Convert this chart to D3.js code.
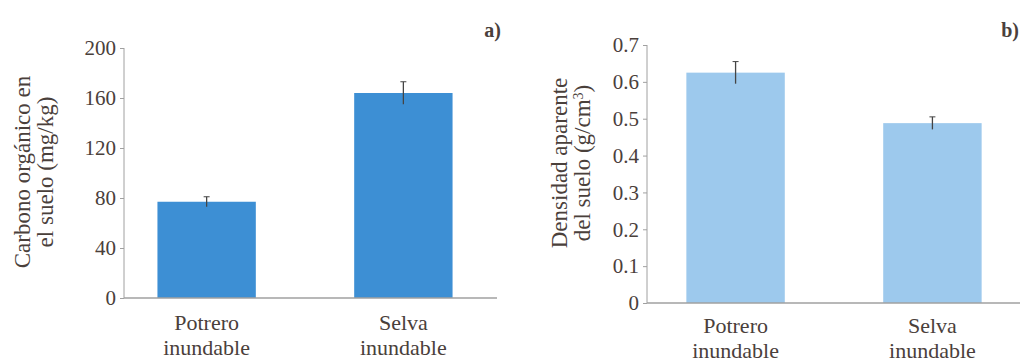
<!DOCTYPE html>
<html lang="es">
<head>
<meta charset="UTF-8">
<title>Carbono y densidad</title>
<script src="https://d3js.org/d3.v7.min.js"></script>
<style>
  body { margin: 0; background: #fff; }
  svg text { font-family: "Liberation Serif", "Times New Roman", Times, "DejaVu Serif", serif; fill: #4a403b; }
</style>
</head>
<body>
<div id="chart"></div>
<script>
// datos
var categorias = [["Potrero", "inundable"], ["Selva", "inundable"]];
var carbono = [77, 164];
var carbonoErr = [4, 9];
var carbonoTicks = [0, 40, 80, 120, 160, 200];
var densidad = [0.625, 0.488];
var densidadErr = [0.03, 0.017];
var densidadTicks = [0, 0.1, 0.2, 0.3, 0.4, 0.5, 0.6, 0.7];

var serif = '"Liberation Serif", "Times New Roman", Times, "DejaVu Serif", serif';

var svg = d3.select('#chart').append('svg')
  .attr('width', 1020).attr('height', 364)
  .attr('font-family', serif);

function panel(opt) {
  var g = svg.append('g');
  var x = d3.scaleBand().domain([0, 1]).range([opt.x0, opt.x1])
    .paddingInner(0.5).paddingOuter(opt.padOut);
  var y = d3.scaleLinear().domain(opt.domain).range([opt.yb, opt.yt]);
  var cx = function(i) { return x(i) + x.bandwidth() / 2; };

  // barras
  g.selectAll('rect.bar').data(opt.values).enter().append('rect')
    .attr('x', function(d, i) { return x(i); })
    .attr('width', x.bandwidth())
    .attr('y', function(d) { return y(d); })
    .attr('height', function(d) { return opt.yb - y(d); })
    .attr('fill', opt.color);

  // barras de error
  var eg = g.selectAll('g.err').data(opt.values).enter().append('g');
  eg.append('line')
    .attr('x1', function(d, i) { return cx(i); })
    .attr('x2', function(d, i) { return cx(i); })
    .attr('y1', function(d, i) { return y(d + opt.err[i]); })
    .attr('y2', function(d, i) { return y(d - opt.err[i]); })
    .attr('stroke', '#444').attr('stroke-width', 1.3);
  eg.append('line')
    .attr('x1', function(d, i) { return cx(i) - 3; })
    .attr('x2', function(d, i) { return cx(i) + 3; })
    .attr('y1', function(d, i) { return y(d + opt.err[i]); })
    .attr('y2', function(d, i) { return y(d + opt.err[i]); })
    .attr('stroke', '#444').attr('stroke-width', 1);

  // eje y
  var ya = g.append('g').attr('transform', 'translate(' + opt.x0 + ',0)')
    .call(d3.axisLeft(y).tickValues(opt.ticks).tickSize(4).tickPadding(4)
      .tickFormat(opt.fmt));
  ya.attr('font-family', serif).attr('font-size', 21);
  ya.select('.domain').attr('stroke', '#a0a0a0').attr('d', 'M0,' + opt.yt + 'V' + opt.yb);
  ya.selectAll('.tick line').attr('stroke', '#a0a0a0');
  ya.selectAll('.tick text').attr('fill', '#4a403b');

  // eje x
  g.append('line').attr('x1', opt.x0).attr('x2', opt.xend)
    .attr('y1', opt.yb).attr('y2', opt.yb)
    .attr('stroke', '#a0a0a0').attr('stroke-width', 1.3);

  // etiquetas de categoría
  categorias.forEach(function(c, i) {
    var t = g.append('text').attr('text-anchor', 'middle').attr('font-size', 22)
      .attr('y', opt.labY);
    t.append('tspan').attr('x', cx(i)).text(c[0]);
    t.append('tspan').attr('x', cx(i)).attr('dy', 25).text(c[1]);
  });

  // título eje y
  var tt = g.append('text').attr('text-anchor', 'middle').attr('font-size', 23)
    .attr('transform', 'translate(' + opt.titleX + ',' + opt.titleY + ') rotate(-90)');
  tt.append('tspan').attr('x', 0).attr('y', 0).text(opt.title[0]);
  var t2 = tt.append('tspan').attr('x', 0).attr('y', 23);
  opt.title2(t2);

  // letra del panel
  g.append('text').attr('x', opt.letterX).attr('y', 37).attr('font-size', 20)
    .attr('font-weight', 'bold').attr('text-anchor', 'end').text(opt.letter);
}

panel({
  x0: 124, x1: 486, xend: 497, yt: 48, yb: 298,
  padOut: 0.17,
  domain: [0, 200], ticks: carbonoTicks, fmt: d3.format('d'),
  values: carbono, err: carbonoErr, color: '#3d8fd4',
  labY: 330, titleX: 30, titleY: 172,
  title: ['Carbono orgánico en'],
  title2: function(t) { t.text('el suelo (mg/kg)'); },
  letter: 'a)', letterX: 501
});

panel({
  x0: 647, x1: 1021, xend: 1020, yt: 45, yb: 303,
  padOut: 0.2,
  domain: [0, 0.7], ticks: densidadTicks,
  fmt: function(d) { return d === 0 ? '0' : d3.format('.1f')(d); },
  values: densidad, err: densidadErr, color: '#9dc9ed',
  labY: 333, titleX: 567, titleY: 163,
  title: ['Densidad aparente'],
  title2: function(t) {
    t.append('tspan').text('del suelo (g/cm');
    t.append('tspan').attr('baseline-shift', 'super').attr('font-size', 14).text('3');
    t.append('tspan').text(')');
  },
  letter: 'b)', letterX: 1019
});
</script>
</body>
</html>
